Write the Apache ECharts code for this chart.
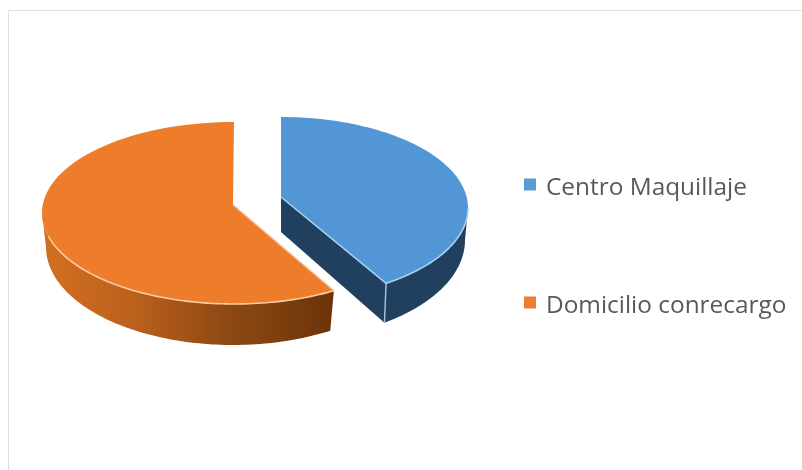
<!DOCTYPE html>
<html><head><meta charset="utf-8">
<style>html,body{margin:0;padding:0;background:#fff}#c{width:802px;height:470px}</style>
<script src="https://cdn.jsdelivr.net/npm/echarts@6/dist/echarts.min.js"></script>
</head><body><div id="c"></div>
<script>
var categories = ['Centro Maquillaje', 'Domicilio conrecargo'];
var values = [40.5, 59.5];

var total = values[0] + values[1];
var TAU = Math.PI * 2;
var blueEnd = values[0] / total * TAU;
var orangeStart = blueEnd + 0.05;
var layouts = [
  {apex:[281,197], apexB:[281,232], top:{cx:281,cy:208,rx:187,ry:91}, bot:{cx:281,cy:240,rx:184,ry:100}},
  {apex:[233,205], apexB:[233,240], top:{cx:234,cy:213,rx:192,ry:91}, bot:{cx:233,cy:247,rx:187,ry:98}}
];
function pt(e, a){ return [e.cx + e.rx*Math.sin(a), e.cy - e.ry*Math.cos(a)]; }
function arc(e, a0, a1){
  var pts = [], n = 90;
  for (var i = 0; i <= n; i++) pts.push(pt(e, a0 + (a1-a0)*i/n));
  return pts;
}
function poly(points, fill, z){
  return {type:'polygon', z2:z, shape:{points:points}, style:{fill:fill, stroke:null}};
}
function line(points, color, w, z){
  return {type:'polyline', z2:z, shape:{points:points}, style:{fill:null, stroke:color, lineWidth:w, lineJoin:'round'}};
}
function lin(stops){
  return new echarts.graphic.LinearGradient(0,0,1,0,stops);
}
function blueItem(params, api){
  var L = layouts[0], a1 = api.value(0)/total*TAU;
  var c = [];
  var wallT = arc(L.top, a1, Math.PI*0.5), wallB = arc(L.bot, a1, Math.PI*0.5);
  var tEnd = pt(L.top, a1), bEnd = pt(L.bot, a1);
  c.push(poly([L.apex, tEnd, bEnd, L.apexB], '#213f5e', 1));
  c.push(poly(wallT.concat(wallB.slice().reverse()), '#213f5e', 1));
  c.push(poly([L.apex].concat(arc(L.top, 0, a1)), '#5296d6', 2));
  c.push(line([L.apex, tEnd].concat(wallT), '#a9d0f0', 1.6, 3));
  c.push(line([tEnd, bEnd], '#a9c6de', 1.4, 3));
  return {type:'group', children:c};
}
function orangeItem(params, api){
  var L = layouts[1], a0 = orangeStart;
  var c = [];
  var wallT = arc(L.top, a0, Math.PI*1.5), wallB = arc(L.bot, a0, Math.PI*1.5);
  c.push(poly(wallT.concat(wallB.slice().reverse()),
    lin([{offset:0,color:'#d36f22'},{offset:0.3,color:'#bd611d'},{offset:0.62,color:'#8f4a14'},{offset:1,color:'#6c3308'}]), 1));
  var tEnd = pt(L.top, a0);
  c.push(poly([L.apex].concat(arc(L.top, a0, TAU)), '#ed7d2b', 2));
  c.push(line(wallT.slice(0, 80), '#fbcba2', 1.6, 3));
  c.push(line([L.apex, tEnd], '#f9b988', 1.4, 3));
  return {type:'group', children:c};
}
var chart = echarts.init(document.getElementById('c'), null, {renderer:'canvas'});
chart.setOption({
  animation:false,
  backgroundColor:'#fff',
  graphic:[{type:'polyline', silent:true, shape:{points:[[8.5,470],[8.5,10.5],[802,10.5]]},
    style:{fill:null, stroke:'#dedede', lineWidth:1}}],
  legend:{
    orient:'vertical', left:519, top:171, itemWidth:12, itemHeight:19, itemGap:94,
    icon:'path://M0 0H12V12H0Z M0 19L0.01 19', selectedMode:false,
    data:categories,
    textStyle:{fontFamily:'Open Sans', fontSize:24.4, color:'#595959', padding:[0,0,0,5]}
  },
  series:[
    {type:'custom', name:categories[1], coordinateSystem:'none', renderItem:orangeItem,
     data:[[values[1]]], itemStyle:{color:'#ed7d31'}, silent:true},
    {type:'custom', name:categories[0], coordinateSystem:'none', renderItem:blueItem,
     data:[[values[0]]], itemStyle:{color:'#5b9bd5'}, silent:true}
  ]
});
</script></body></html>
